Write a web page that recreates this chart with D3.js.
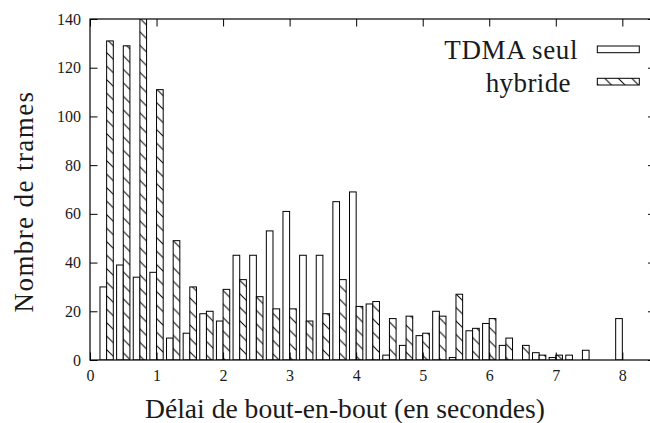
<!DOCTYPE html>
<html>
<head>
<meta charset="utf-8">
<script src="https://cdn.jsdelivr.net/npm/d3@7"></script>
<style>
  html, body { margin: 0; padding: 0; background: #fff; }
  svg { display: block; }
</style>
</head>
<body>
<svg id="chart" width="650" height="423" font-family="Liberation Serif"></svg>
<script>
// ---- data ----
const delays = [0.25, 0.5, 0.75, 1.0, 1.25, 1.5, 1.75, 2.0, 2.25, 2.5, 2.75, 3.0,
                3.25, 3.5, 3.75, 4.0, 4.25, 4.5, 4.75, 5.0, 5.25, 5.5, 5.75, 6.0,
                6.25, 6.5, 6.75, 7.0, 7.25, 7.5, 7.75, 8.0];
const tdmaSeul = [30, 39, 34, 36, 9, 11, 19, 16, 43, 43, 53, 61,
                  43, 43, 65, 69, 23, 2, 6, 10, 20, 1, 12, 15,
                  6, 0, 3, 1, 2, 4, 0, 17];
const hybride  = [131, 129, 148, 111, 49, 30, 20, 29, 33, 26, 21, 21,
                  16, 19, 33, 22, 24, 17, 18, 11, 18, 27, 13, 17,
                  9, 6, 2, 2, 0, 0, 0, 0];
const seriesNames = ["TDMA seul", "hybride"];
const xTicks = [0, 1, 2, 3, 4, 5, 6, 7, 8];
const yTicks = [0, 20, 40, 60, 80, 100, 120, 140];
const xLabel = "Délai de bout-en-bout (en secondes)";
const yLabel = "Nombre de trames";

(function () {
// ---- layout ----
const pL = 90, pR = 655.6, pT = 19, pB = 360;
const barW = 0.1; // in data units
const FONT = '"Liberation Serif"';
const TXT = "#1a1a1a";

const svg = d3.select("#chart");
const x = d3.scaleLinear().domain([0, 8.5]).range([pL, pR]);
const y = d3.scaleLinear().domain([0, 140]).range([pB, pT]);

// hatch pattern
const defs = svg.append("defs");
const pat = defs.append("pattern")
  .attr("id", "hatch").attr("patternUnits", "userSpaceOnUse")
  .attr("width", 13.5).attr("height", 13.5);
pat.append("rect").attr("width", 13.5).attr("height", 13.5).attr("fill", "#fff");
pat.append("path")
  .attr("d", "M-1,-1 L14.5,14.5 M-3,10.5 L3,16.5 M10.5,-3 L16.5,3")
  .attr("stroke", "#000").attr("stroke-width", 1);

defs.append("clipPath").attr("id", "plotclip")
  .append("rect").attr("x", pL).attr("y", pT)
  .attr("width", pR - pL).attr("height", pB - pT);

// bars
const g = svg.append("g").attr("clip-path", "url(#plotclip)");
const rows = delays.map((d, i) => ({ d, a: tdmaSeul[i], b: hybride[i] }));

g.selectAll("rect.tdma").data(rows.filter(r => r.a > 0)).join("rect")
  .attr("class", "tdma")
  .attr("x", r => x(r.d - barW))
  .attr("width", r => x(r.d) - x(r.d - barW))
  .attr("y", r => y(r.a))
  .attr("height", r => y(0) - y(r.a))
  .attr("fill", "#fff").attr("stroke", "#000").attr("stroke-width", 1);

g.selectAll("rect.hyb").data(rows.filter(r => r.b > 0)).join("rect")
  .attr("class", "hyb")
  .attr("x", r => x(r.d))
  .attr("width", r => x(r.d + barW) - x(r.d))
  .attr("y", r => y(r.b))
  .attr("height", r => y(0) - y(r.b))
  .attr("fill", "url(#hatch)").attr("stroke", "#000").attr("stroke-width", 1);

// axes (inward ticks, mirrored)
const tickLen = 7.5;
function styleAxis(a) {
  a.attr("font-family", null).attr("font-size", null);
  a.select(".domain").remove();
  a.selectAll("line").attr("stroke", "#000").attr("stroke-width", 1);
  a.selectAll("text").attr("font-family", "Liberation Serif").style("font-family", FONT)
    .style("font-size", "16px").attr("fill", TXT);
}
svg.append("g").attr("transform", `translate(${pL},0)`)
  .call(d3.axisLeft(y).tickValues(yTicks).tickSize(-tickLen).tickPadding(9).tickFormat(d3.format("d")))
  .call(styleAxis);
svg.append("g").attr("transform", `translate(0,${pB})`)
  .call(d3.axisBottom(x).tickValues(xTicks).tickSize(-tickLen).tickPadding(10).tickFormat(d3.format("d")))
  .call(styleAxis);
svg.append("g").attr("transform", `translate(0,${pT})`)
  .call(d3.axisTop(x).tickValues(xTicks).tickSize(-tickLen).tickFormat(""))
  .call(styleAxis);
svg.append("g").attr("transform", `translate(${pR},0)`)
  .call(d3.axisRight(y).tickValues(yTicks).tickSize(-tickLen).tickFormat(""))
  .call(styleAxis);

// border
svg.append("rect").attr("x", pL).attr("y", pT)
  .attr("width", pR - pL).attr("height", pB - pT)
  .attr("fill", "none").attr("stroke", "#000").attr("stroke-width", 1.2);

// axis titles (font size chosen so natural width matches; no glyph stretching)
svg.append("text").attr("x", 345).attr("y", 418).attr("text-anchor", "middle")
  .attr("font-family", "Liberation Serif").style("font-family", FONT).attr("fill", TXT)
  .style("font-size", "27.6px").text(xLabel);
svg.append("text")
  .attr("transform", "translate(33,201.5) rotate(-90)").attr("text-anchor", "middle")
  .attr("font-family", "Liberation Serif").style("font-family", FONT).attr("fill", TXT)
  .style("font-size", "27px").style("letter-spacing", "1.4px").text(yLabel);

// legend
const legend = [
  { name: seriesNames[0], xe: 578, base: 59.3, sy: 46, fill: "#fff", ls: "0.6px" },
  { name: seriesNames[1], xe: 571, base: 91.7, sy: 78.3, fill: "url(#hatch)", ls: "0.4px" }
];
legend.forEach(l => {
  svg.append("text").attr("x", l.xe).attr("y", l.base).attr("text-anchor", "end")
    .attr("font-family", "Liberation Serif").style("font-family", FONT).attr("fill", TXT)
    .style("font-size", "27px").style("letter-spacing", l.ls).text(l.name);
  svg.append("rect").attr("x", 597.3).attr("y", l.sy).attr("width", 42).attr("height", 6.7)
    .attr("fill", l.fill).attr("stroke", "#000").attr("stroke-width", 1);
});
})();
</script>
</body>
</html>
